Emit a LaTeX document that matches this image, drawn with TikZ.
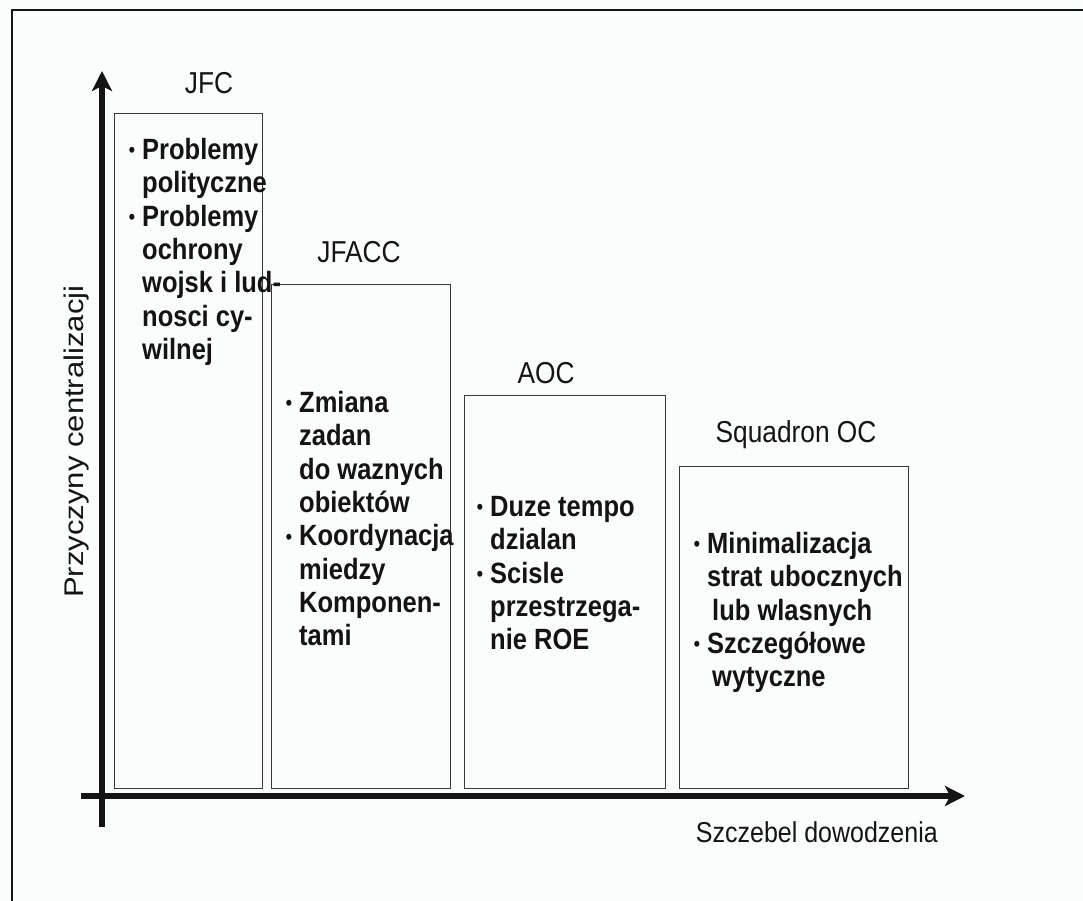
\documentclass[tikz,border=0pt]{standalone}
\usepackage{fontspec}
\setmainfont{Liberation Sans}
\usetikzlibrary{positioning, arrows.meta}
\definecolor{ink}{rgb}{0.08,0.08,0.08}
\definecolor{paper}{rgb}{0.985,0.988,0.988}
\definecolor{edge}{rgb}{0.22,0.22,0.22}
\newcommand{\bullitem}{\llap{\raisebox{1.5pt}{\fontsize{19}{19}\selectfont\mdseries\textbullet}\hspace{7pt}}}

\begin{document}
\begin{tikzpicture}[
  x=1pt, y=-1pt,
  every node/.style={
    text=ink,
    inner sep=0pt
  },
  stretch/.style={yscale=1.15},
  column/.style={draw=edge, line width=1.1pt, anchor=north west},
  head/.style={stretch, font=\fontsize{26.3}{30}\selectfont, anchor=base},
  items/.style={stretch, font=\fontsize{25.5}{29}\selectfont\bfseries, align=left, anchor=north west},
  axis/.style={line width=6.5pt, ink, -{Stealth[length=20pt, width=20pt, inset=5pt]}},
]

\useasboundingbox (0,0) rectangle (1083,901);
\fill[paper] (0,0) rectangle (1083,901);
\draw[ink, line width=1.4pt] (12,10) rectangle (1100,920);

% columns
\node[column, minimum width=148pt, minimum height=675pt] (jfc) at (114,113) {};
\node[column, minimum width=179pt, minimum height=504pt] (jfacc) at (271,284) {};
\node[column, minimum width=201pt, minimum height=393pt] (aoc) at (464,395) {};
\node[column, minimum width=229pt, minimum height=322pt] (sqoc) at (679,466) {};

% column heads
\node[head] (jfchead) at (209,94) {JFC};
\node[head] (jfacchead) at (359,262) {JFACC};
\node[head] (aochead) at (546,383) {AOC};
\node[head] (sqochead) at (796,442) {Squadron OC};

% column texts
\node[items] (jfctxt) at (142,138) {\bullitem Problemy\\polityczne\\\bullitem Problemy\\ochrony\\wojsk i lud-\\nosci cy-\\wilnej};
\node[items] (jfacctxt) at (299,391) {\bullitem Zmiana\\zadan\\do waznych\\obiektów\\\bullitem Koordynacja\\miedzy\\Komponen-\\tami};
\node[items] (aoctxt) at (490,496) {\bullitem Duze tempo\\dzialan\\\bullitem Scisle\\przestrzega-\\nie ROE};
\node[items] (sqoctxt) at (707,532) {\bullitem Minimalizacja\\strat ubocznych\\\hspace*{5pt}lub wlasnych\\\bullitem Szczegółowe\\\hspace*{5pt}wytyczne};

% axes
\coordinate (yfoot) at (102,827);
\coordinate (ytip) at (102,71);
\coordinate (xfoot) at (81,796);
\coordinate (xtip) at (965,796);
\draw[axis] (yfoot) -- (ytip);
\draw[axis] (xfoot) -- (xtip);

\node[stretch, font=\fontsize{25}{30}\selectfont, anchor=base east] (xlabel) at (938,842) {Szczebel dowodzenia};
\node[stretch, rotate=90, font=\fontsize{27}{30}\selectfont, anchor=base west] (ylabel) at (83,598) {Przyczyny centralizacji};

\end{tikzpicture}
\end{document}
